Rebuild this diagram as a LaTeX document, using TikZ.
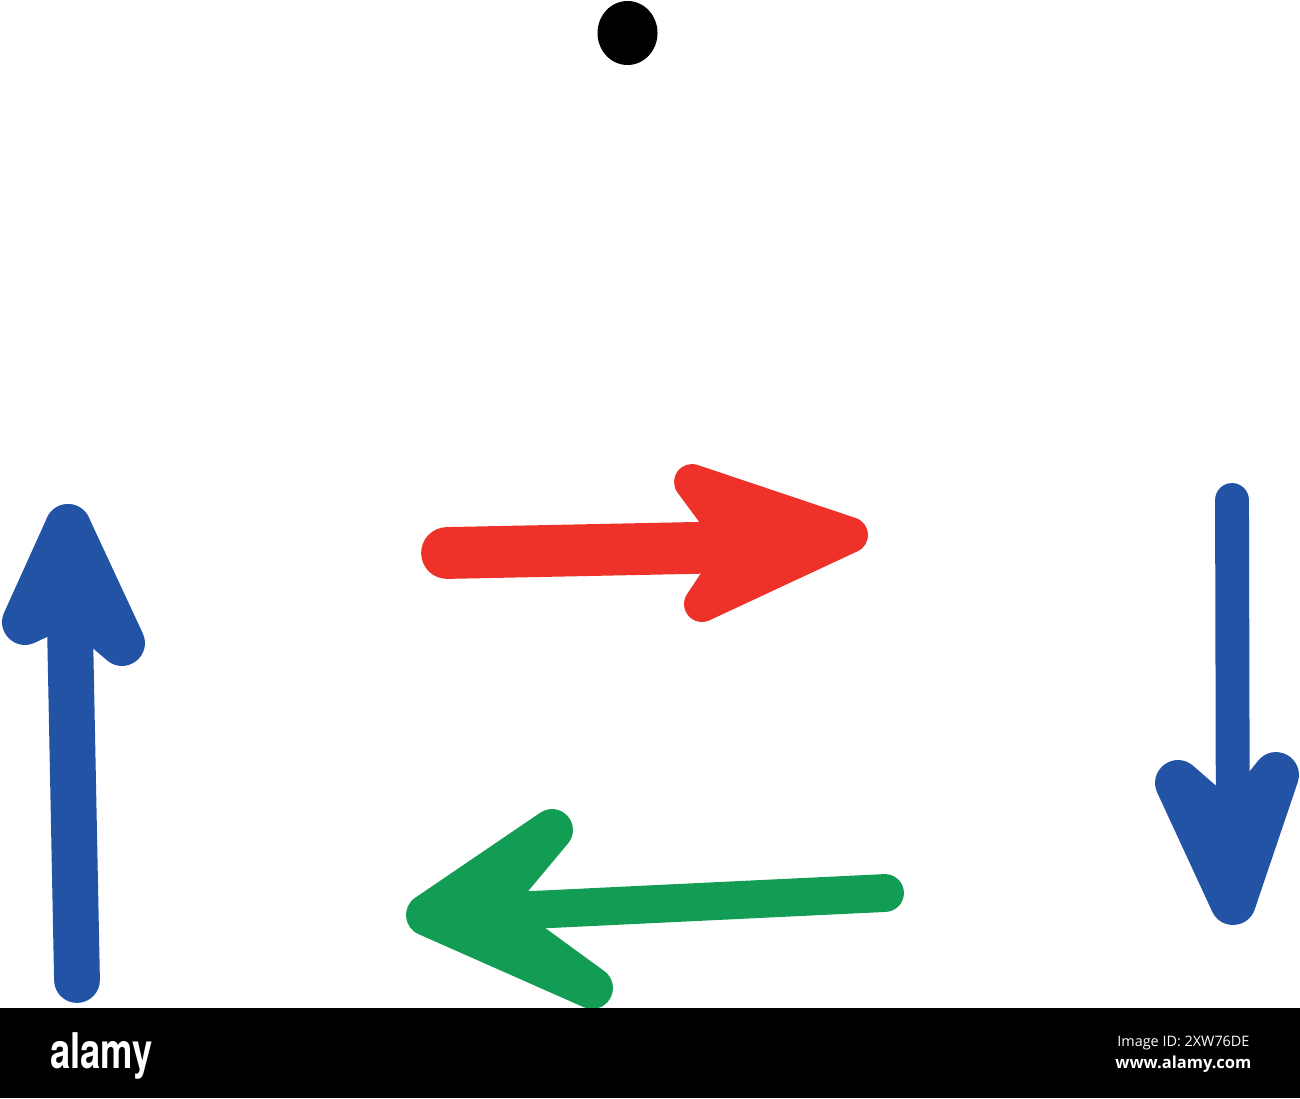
\documentclass[tikz,border=0pt]{standalone}
\usepackage{fontspec}
\setmainfont{Open Sans}
\newfontfamily\logofont{TeX Gyre Heros}

\begin{document}
\begin{tikzpicture}[x=0.02cm,y=-0.02cm,
  stroke/.style={line width=#1*0.5669pt,line cap=round,line join=round}]
\definecolor{markerred}{HTML}{EE3129}
\definecolor{markerblue}{HTML}{2353A5}
\definecolor{markergreen}{HTML}{139C54}
\useasboundingbox (0,0) rectangle (1300,1098);
% dot on top
\fill[black] (627.5,33) ellipse [x radius=30, y radius=32];
% red arrow, to the right
\coordinate (redtail) at (447,553);
\coordinate (redneck) at (740,547);
\coordinate (redtip) at (850,535);
\coordinate (redup) at (692,482);
\coordinate (reddown) at (702,604);
\draw[markerred,stroke=52] (redtail) -- (redneck);
\filldraw[markerred,stroke=36] (redup) -- (redtip) -- (reddown) -- (redneck) -- cycle;
% blue arrow, up
\coordinate (uptail) at (77,980);
\coordinate (uptip) at (68,527);
\coordinate (upneck) at (72,600);
\coordinate (upleft) at (25,622);
\coordinate (upright) at (122,643);
\draw[markerblue,stroke=46] (uptail) -- (uptip);
\filldraw[markerblue,stroke=46] (upleft) -- (uptip) -- (upright) -- (upneck) -- cycle;
% blue arrow, down
\coordinate (downtail) at (1232,500);
\coordinate (downtip) at (1233,902);
\coordinate (downneck) at (1232,830);
\coordinate (downleft) at (1178,783);
\coordinate (downright) at (1276,775);
\draw[markerblue,stroke=34] (downtail) -- (downtip);
\filldraw[markerblue,stroke=46] (downleft) -- (downtip) -- (downright) -- (downneck) -- cycle;
% green arrow, to the left
\coordinate (greentail) at (885,893);
\coordinate (greentip) at (427,915);
\coordinate (greenneck) at (485,910);
\coordinate (greenup) at (552,830);
\coordinate (greendown) at (592,988);
\draw[markergreen,stroke=38] (greentail) -- (greentip);
\filldraw[markergreen,stroke=42] (greenup) -- (greentip) -- (greendown) -- (greenneck) -- cycle;
% stock bar
\fill[black] (0,1008) rectangle (1300,1098);
\node[anchor=base west,inner sep=0,text=white] (logo) at (50,1068)
  {\logofont\bfseries\fontsize{28}{28}\selectfont\scalebox{0.74}[1]{alamy}};
\node[anchor=base west,inner sep=0,text=white] (imgid) at (1117,1046)
  {\fontsize{8.2}{9}\selectfont Image ID: 2XW76DE};
\node[anchor=base west,inner sep=0,text=white] (site) at (1115,1068)
  {\bfseries\fontsize{9.4}{10}\selectfont www.alamy.com};
\end{tikzpicture}
\end{document}
